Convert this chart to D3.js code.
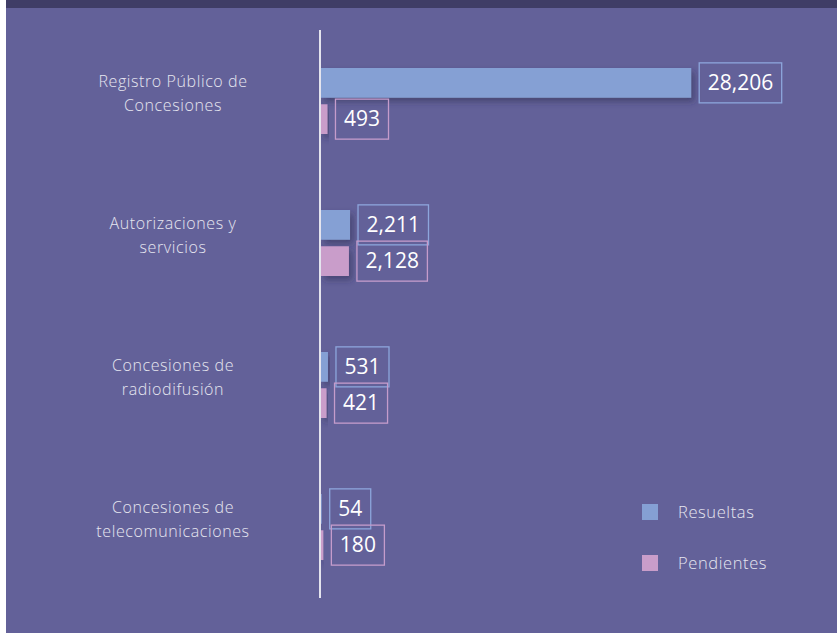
<!DOCTYPE html>
<html lang='es'>
<head>
  <meta charset='UTF-8'>
  <title>Resueltas y pendientes</title>
  <script src='https://d3js.org/d3.v7.min.js'></script>
  <style>
    body { margin: 0; background: #fff; }
    svg { display: block; }
    text { font-family: 'Open Sans', 'Noto Sans', sans-serif; }
  </style>
</head>
<body>
  <svg width='837' height='633'></svg>

  <script>
    // datos
    var categories = [
      ['Registro Público de', 'Concesiones'],
      ['Autorizaciones y', 'servicios'],
      ['Concesiones de', 'radiodifusión'],
      ['Concesiones de', 'telecomunicaciones']
    ];
    var series = ['Resueltas', 'Pendientes'];
    var resueltas = [28206, 2211, 531, 54];
    var pendientes = [493, 2128, 421, 180];
    var colors = ['#85a0d4', '#c99dca'];
    var boxColors = ['#8da6dc', '#c59ccb'];

    var svg = d3.select('svg');
    var fmt = d3.format(',');

    // fondo
    svg.append('rect').attr('x', 6).attr('y', 0).attr('width', 831).attr('height', 633).attr('fill', '#636199');
    svg.append('rect').attr('x', 6).attr('y', 0).attr('width', 831).attr('height', 8).attr('fill', '#3f3d66');

    var defs = svg.append('defs');
    var f = defs.append('filter').attr('id', 'shadow')
      .attr('x', '-10%').attr('y', '-20%').attr('width', '130%').attr('height', '160%');
    f.append('feDropShadow').attr('dx', 3).attr('dy', 4).attr('stdDeviation', 3)
      .attr('flood-color', '#2a2850').attr('flood-opacity', 0.5);

    var y = d3.scaleBand()
      .domain(d3.range(categories.length))
      .range([30, 598]);
    var inner = d3.scaleBand()
      .domain(d3.range(series.length))
      .range([38, y.bandwidth() - 38])
      .paddingInner(0.18);
    var x = d3.scaleLinear()
      .domain([0, 32000])
      .range([321, 741]);

    var data = [];
    categories.forEach(function(c, i) {
      data.push({cat: i, s: 0, v: resueltas[i]});
      data.push({cat: i, s: 1, v: pendientes[i]});
    });

    // barras
    svg.append('g').selectAll('rect').data(data)
      .enter().append('rect')
        .attr('x', x(0))
        .attr('y', d => y(d.cat) + inner(d.s))
        .attr('width', d => x(d.v) - x(0))
        .attr('height', inner.bandwidth())
        .attr('fill', d => colors[d.s])
        .attr('filter', 'url(#shadow)');

    // etiquetas de valor con recuadro
    var lab = svg.append('g').selectAll('g').data(data)
      .enter().append('g')
        .attr('transform', d => 'translate(' + (x(d.v) + 8) + ',' + (y(d.cat) + inner(d.s) + inner.bandwidth() / 2) + ')');
    lab.append('text')
      .attr('x', 8.5)
      .attr('dy', '0.35em')
      .attr('fill', '#ffffff')
      .attr('font-size', 21)
      .text(d => fmt(d.v));
    lab.each(function(d) {
      var g = d3.select(this);
      var w = g.select('text').node().getComputedTextLength();
      g.insert('rect', 'text')
        .attr('x', 0).attr('y', -20)
        .attr('width', w + 17).attr('height', 40)
        .attr('fill', 'none')
        .attr('stroke', boxColors[d.s])
        .attr('stroke-width', 1.3);
    });

    // eje
    svg.append('line')
      .attr('x1', x(0) - 1).attr('x2', x(0) - 1)
      .attr('y1', y.range()[0]).attr('y2', y.range()[1])
      .attr('stroke', '#e4e4ee').attr('stroke-width', 2);

    // categorías
    var cat = svg.append('g').selectAll('text').data(categories)
      .enter().append('text')
        .attr('x', 173)
        .attr('y', (d, i) => y(i) + y.bandwidth() / 2)
        .attr('text-anchor', 'middle')
        .attr('fill', '#e6e6f0')
        .attr('font-size', 16)
        .attr('font-weight', 300)
        .attr('letter-spacing', 0.6);
    cat.selectAll('tspan').data(d => d)
      .enter().append('tspan')
        .attr('x', 173)
        .attr('dy', (d, i) => i === 0 ? -14 : 24)
        .text(d => d);

    // leyenda
    var leg = svg.append('g').selectAll('g').data(series)
      .enter().append('g')
        .attr('transform', (d, i) => 'translate(642,' + (504 + i * 51) + ')');
    leg.append('rect').attr('width', 16).attr('height', 16).attr('fill', (d, i) => colors[i]);
    leg.append('text')
      .attr('x', 36).attr('y', 14)
      .attr('fill', '#e6e6f0')
      .attr('font-size', 16.5)
      .attr('font-weight', 300)
      .attr('letter-spacing', 0.6)
      .text(d => d);
  </script>
</body>
</html>
